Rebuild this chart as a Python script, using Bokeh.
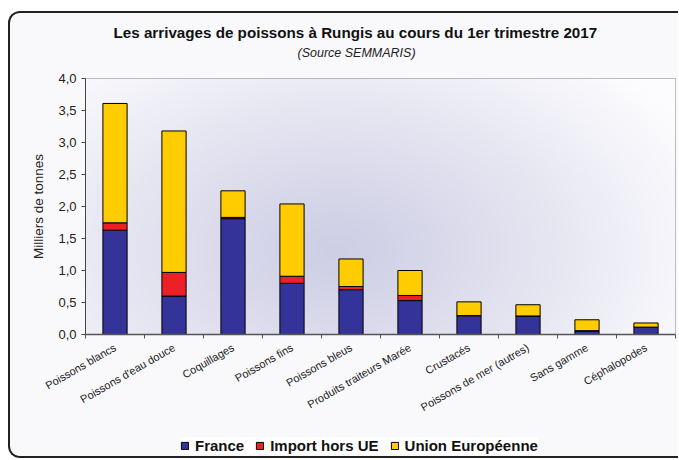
import numpy as np
from bokeh.plotting import figure
from bokeh.layouts import column
from bokeh.models import Range1d, FixedTicker, Title, Legend, LegendItem, ColumnDataSource
from bokeh.embed import file_html
from bokeh.resources import INLINE

# ---- data ----
categories = ["Poissons blancs", "Poissons d'eau douce", "Coquillages", "Poissons fins",
              "Poissons bleus", "Produits traiteurs Marée", "Crustacés",
              "Poissons de mer (autres)", "Sans gamme", "Céphalopodes"]
france = [1.63, 0.60, 1.81, 0.80, 0.70, 0.53, 0.295, 0.29, 0.05, 0.115]
import_hors_ue = [0.115, 0.37, 0.02, 0.11, 0.05, 0.08, 0.0, 0.0, 0.01, 0.0]
union_europeenne = [1.865, 2.21, 0.415, 1.13, 0.43, 0.39, 0.215, 0.175, 0.17, 0.065]
series_names = ["France", "Import hors UE", "Union Européenne"]
y_ticks = [0.0, 0.5, 1.0, 1.5, 2.0, 2.5, 3.0, 3.5, 4.0]
y_tick_labels = ["0,0", "0,5", "1,0", "1,5", "2,0", "2,5", "3,0", "3,5", "4,0"]

title_text = "Les arrivages de poissons à Rungis au cours du 1er trimestre 2017"
subtitle_text = "(Source SEMMARIS)"
y_label = "Milliers de tonnes"

colors = ["#333399", "#ee2027", "#ffcc00"]
bg_fill = "#f9f9fc"
stack_fields = ["france", "imp", "ue"]

x_idx = list(range(len(categories)))
src = ColumnDataSource(dict(x=x_idx, france=france, imp=import_hors_ue, ue=union_europeenne))

p = figure(frame_width=590, frame_height=256, x_range=Range1d(-0.5, len(categories) - 0.5),
           y_range=Range1d(0, 4.0), output_backend="svg", toolbar_location=None,
           title=None, min_border_left=75, min_border_right=3, min_border_top=65,
           min_border_bottom=88)

p.border_fill_color = bg_fill
p.outline_line_color = "#a8a8a8"
p.outline_line_width = 1

# background radial gradient inside frame
p.extra_x_ranges = {"bg": Range1d(0, 1)}
p.extra_y_ranges = {"bg": Range1d(0, 1)}
nx, ny = 240, 110
xs = np.linspace(0, 1, nx)
ys = np.linspace(0, 1, ny)
X, Y = np.meshgrid(xs, ys)
px = 85 + X * 590
py = 334 - Y * 256
t = np.sqrt(((px - 335) / 390.0) ** 2 + ((py - 250) / 255.0) ** 2)
t = np.clip(t, 0, 1)
t = t ** 1.1
c0 = np.array([206, 206, 229])
c1 = np.array([252, 252, 254])
img = np.empty((ny, nx), dtype=np.uint32)
view = img.view(dtype=np.uint8).reshape((ny, nx, 4))
for k in range(3):
    view[:, :, k] = (c0[k] + (c1[k] - c0[k]) * t).astype(np.uint8)
view[:, :, 3] = 255
p.image_rgba(image=[img], x=0, y=0, dw=1, dh=1, x_range_name="bg", y_range_name="bg")

# bars
rs = p.vbar_stack(stack_fields, x="x", width=0.41, source=src,
                  fill_color=colors, line_color="black", line_width=1)

# titles (closest to frame first)
p.add_layout(Title(text=" ", text_font_size="10px", standoff=6), "above")
p.add_layout(Title(text=subtitle_text, text_font="Liberation Sans", text_font_size="12.5px",
                   text_font_style="italic", align="left", offset=212, text_color="#222222",
                   standoff=0), "above")
p.add_layout(Title(text=title_text, text_font="Liberation Sans", text_font_size="15.2px",
                   text_font_style="bold", align="left", offset=28, text_color="#111111",
                   standoff=6), "above")

# axes
xa = p.xaxis[0]
xa.ticker = FixedTicker(ticks=x_idx, minor_ticks=[i + 0.5 for i in range(-1, len(categories))])
xa.major_label_overrides = {i: c for i, c in enumerate(categories)}
xa.major_label_orientation = np.pi / 6
xa.major_label_text_font = "Liberation Sans"
xa.major_label_text_font_size = "11px"
xa.major_label_text_color = "#222222"
xa.major_tick_line_color = None
xa.minor_tick_line_color = "#555555"
xa.minor_tick_out = 4
xa.minor_tick_in = 0
xa.axis_line_color = "#555555"
xa.axis_line_width = 1.5
xa.major_label_standoff = 6

ya = p.yaxis[0]
ya.ticker = FixedTicker(ticks=y_ticks, minor_ticks=[])
ya.major_label_overrides = {v: l for v, l in zip(y_ticks, y_tick_labels)}
ya.major_label_text_font = "Liberation Sans"
ya.major_label_text_font_size = "13px"
ya.major_label_text_color = "#222222"
ya.axis_label = y_label
ya.axis_label_text_font = "Liberation Sans"
ya.axis_label_text_font_size = "13.5px"
ya.axis_label_text_font_style = "normal"
ya.axis_label_text_color = "#222222"
ya.axis_label_standoff = 9
ya.major_tick_out = 4
ya.major_tick_in = 0
ya.major_tick_line_color = "#444444"
ya.axis_line_color = "#444444"

p.xgrid.grid_line_color = None
p.ygrid.grid_line_color = "#6f6faa"
p.ygrid.grid_line_width = 1

# ---- legend strip (separate small figure) ----
pl = figure(width=668, height=34, x_range=Range1d(-0.5, len(categories) - 0.5),
            y_range=Range1d(0, 4.0),
            output_backend="svg", toolbar_location=None, title=None,
            min_border_left=0, min_border_right=0, min_border_top=0, min_border_bottom=0,
            x_axis_location=None, y_axis_location=None)
pl.grid.visible = False
pl.outline_line_color = None
pl.background_fill_color = bg_fill
pl.border_fill_color = bg_fill
legend_renderers = [pl.vbar(x="x", top=f, width=0.41, source=src, fill_color=c,
                            line_color="black", line_width=1, visible=False)
                    for f, c in zip(stack_fields, colors)]
legend = Legend(items=[LegendItem(label=n, renderers=[r]) for n, r in zip(series_names, legend_renderers)],
                orientation="horizontal", location=(95, 2),
                label_text_font="Liberation Sans", label_text_font_size="15px",
                label_text_font_style="bold", label_text_color="#111111",
                glyph_width=9, glyph_height=9, label_standoff=6, spacing=11,
                padding=4, margin=0, border_line_color=None,
                background_fill_color="white", background_fill_alpha=1.0,
                inactive_fill_alpha=0.0)
pl.add_layout(legend, "center")

layout = column(p, pl, spacing=0)
layout.styles = {"margin-left": "8px", "margin-top": "11px",
                 "border-top": "2px solid #222", "border-left": "2px solid #222",
                 "border-bottom": "2px solid #222", "border-radius": "12px 0 0 12px",
                 "overflow": "hidden", "background-color": bg_fill}

open("out.html", "w").write(file_html(layout, INLINE))
